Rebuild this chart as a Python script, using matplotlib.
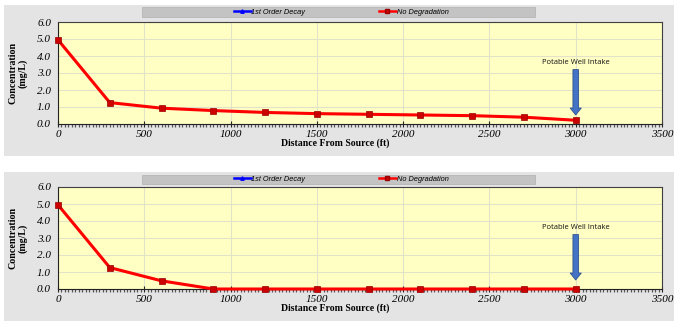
import matplotlib.pyplot as plt
from matplotlib.patches import Rectangle
from matplotlib.lines import Line2D
from matplotlib.ticker import MultipleLocator

# Dados (distancia em ft, concentracao em mg/L)
distance = [0, 300, 600, 900, 1200, 1500, 1800, 2100, 2400, 2700, 3000]
conc_top = [4.95, 1.26, 0.93, 0.79, 0.68, 0.61, 0.57, 0.53, 0.49, 0.40, 0.22]
conc_bottom = [4.95, 1.26, 0.48, 0.0, 0.0, 0.0, 0.0, 0.0, 0.0, 0.0, 0.0]
series_names = ['1st Order Decay', 'No Degradation']
well_x = 3000
well_label = 'Potable Well Intake'
x_ticks = [0, 500, 1000, 1500, 2000, 2500, 3000, 3500]
y_ticks = [0.0, 1.0, 2.0, 3.0, 4.0, 5.0, 6.0]

W, H = 680, 329
fig = plt.figure(figsize=(W / 100, H / 100), dpi=100)
fig.patch.set_facecolor('white')

serif = 'Liberation Serif'
sans = 'Liberation Sans'

# (topo do painel, base do painel, topo do eixo, base do eixo) em pixels
panels = [(5, 156, 22, 124, conc_top), (172, 321, 187, 289, conc_bottom)]

for p_top, p_bot, a_top, a_bot, conc in panels:
    # fundo cinza do painel
    fig.patches.append(Rectangle((4 / W, 1 - p_bot / H), 670 / W, (p_bot - p_top) / H,
                                 transform=fig.transFigure, facecolor='#e4e4e4',
                                 edgecolor='none', zorder=-3))
    # barra da legenda
    fig.patches.append(Rectangle((142 / W, 1 - (p_top + 12) / H), 393 / W, 9.5 / H,
                                 transform=fig.transFigure, facecolor='#c3c3c3',
                                 edgecolor='#b0b0b0', lw=0.5, zorder=-2))

    ax = fig.add_axes([58 / W, 1 - a_bot / H, 604 / W, (a_bot - a_top) / H])
    ax.set_zorder(2)
    ax.set_facecolor('#ffffc4')
    ax.plot(distance, conc, color='#ff0000', lw=2.2, marker='s', markersize=3.8,
            markerfacecolor='#cc0000', markeredgecolor='#990000', markeredgewidth=0.5,
            zorder=3, clip_on=False)

    ax.set_xlim(0, 3500)
    ax.set_ylim(0, 6)
    ax.set_xticks(x_ticks)
    ax.set_yticks(y_ticks)
    ax.set_xticklabels([str(t) for t in x_ticks], fontfamily=serif, style='italic', fontsize=8)
    ax.set_yticklabels(['%.1f' % t for t in y_ticks], fontfamily=serif, style='italic', fontsize=8)
    ax.xaxis.set_minor_locator(MultipleLocator(20))
    ax.tick_params(axis='x', which='major', direction='inout', length=5, width=0.8,
                   color='#222222', pad=2)
    ax.tick_params(axis='x', which='minor', direction='out', length=2, width=0.9,
                   color='#555555')
    ax.tick_params(axis='y', length=0, pad=5)
    ax.grid(True, which='major', color='#e2e2c8', lw=0.8)
    ax.set_axisbelow(True)
    for s in ax.spines.values():
        s.set_color('#404040')
        s.set_linewidth(0.8)
    ax.spines['left'].set_color('#222222')
    ax.spines['bottom'].set_color('#222222')

    # rotulos dos eixos
    ax.text(-0.066, 0.5, 'Concentration\n(mg/L)', transform=ax.transAxes, rotation=90,
            ha='center', va='center', fontfamily=serif, fontweight='bold', fontsize=7.2,
            linespacing=1.1)
    ax.text(0.459, -0.19, 'Distance From Source (ft)', transform=ax.transAxes,
            ha='center', va='center', fontfamily=serif, fontweight='bold', fontsize=7)

    # seta do poco
    ax.annotate('', xy=(well_x, 0.53), xytext=(well_x, 3.2),
                arrowprops=dict(arrowstyle='simple,head_length=0.5,head_width=0.8,tail_width=0.4',
                                mutation_scale=10, facecolor='#4472c4', edgecolor='#2f528f',
                                lw=0.6, shrinkA=0, shrinkB=0), zorder=4)
    ax.text(well_x, 3.6, well_label, ha='center', va='center', fontfamily='Open Sans',
            fontsize=5.5, color='#111111')

    # legenda
    handles = [Line2D([], [], color='#0000ff', lw=1.8, marker='^', markersize=2.5),
               Line2D([], [], color='#ff0000', lw=1.8, marker='s', markersize=2.8,
                      markerfacecolor='#cc0000', markeredgecolor='#990000')]
    ax.legend(handles, series_names, loc='center',
              bbox_to_anchor=(341 / W, 1 - (p_top + 7) / H), bbox_transform=fig.transFigure,
              ncol=2, frameon=False, prop={'family': sans, 'style': 'italic', 'size': 5.3},
              handlelength=2.3, handletextpad=0.1, columnspacing=10, borderpad=0)

plt.savefig('out.png', dpi=100)
